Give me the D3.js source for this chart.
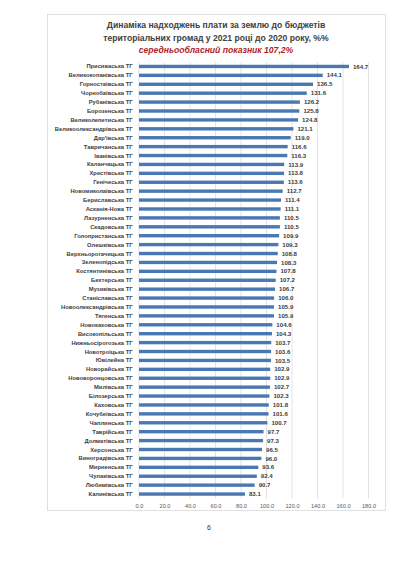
<!DOCTYPE html>
<html><head><meta charset="utf-8">
<script src="https://cdn.jsdelivr.net/npm/d3@7"></script>
<style>body{margin:0;background:#fff}svg{display:block}</style>
</head><body>
<script>
const categories = ["Присиваська ТГ","Великокопанівська ТГ","Горностаївська ТГ","Чорнобаївська ТГ","Рубанівська ТГ","Борозенська ТГ","Великолепетиська ТГ","Великоолександрівська ТГ","Дар'ївська ТГ","Тавричанська ТГ","Іванівська ТГ","Каланчацька ТГ","Хрестівська ТГ","Генічеська ТГ","Новомиколаївська ТГ","Бериславська ТГ","Асканія-Нова ТГ","Лазурненська ТГ","Скадовська ТГ","Голопристанська ТГ","Олешківська ТГ","Верхньорогачицька ТГ","Зеленопідська ТГ","Костянтинівська ТГ","Бехтерська ТГ","Музиківська ТГ","Станіславська ТГ","Новоолександрівська ТГ","Тягинська ТГ","Новокаховська ТГ","Високопільська ТГ","Нижньосірогозька ТГ","Новотроїцька ТГ","Ювілейна ТГ","Новорайська ТГ","Нововоронцовська ТГ","Милівська ТГ","Білозерська ТГ","Каховська ТГ","Кочубеївська ТГ","Чаплинська ТГ","Таврійська ТГ","Долматівська ТГ","Херсонська ТГ","Виноградівська ТГ","Мирненська ТГ","Чулаківська ТГ","Любимівська ТГ","Калинівська ТГ"];
const values = [164.7,144.1,136.5,131.6,126.2,125.8,124.8,121.1,119.0,116.6,116.3,113.9,113.8,113.6,112.7,111.4,111.1,110.5,110.5,109.9,109.3,108.8,108.3,107.8,107.2,106.7,106.0,105.9,105.9,104.6,104.3,103.7,103.6,103.5,102.9,102.9,102.7,102.3,101.8,101.6,100.7,97.7,97.3,96.5,96.0,93.6,92.4,90.7,83.1];
const xTicks = [0,20,40,60,80,100,120,140,160,180];
const titleLines = ["Динаміка надходжень плати за землю до бюджетів","територіальних громад у 2021 році до 2020 року, %%"];
const subtitle = "середньообласний показник 107,2%";
const pageNumber = "6";

const W = 400, H = 565;
const svg = d3.select("body").append("svg").attr("width", W).attr("height", H)
  .style("font-family", "'Liberation Sans', Arial, sans-serif");

// chart border
svg.append("rect").attr("x", 47.5).attr("y", 14.5).attr("width", 338).attr("height", 496)
  .attr("fill", "none").attr("stroke", "#d9d9d9").attr("stroke-width", 0.8);

const x = d3.scaleLinear().domain([0, 180]).range([139, 368.5]);
const y = d3.scaleBand().domain(categories).range([62, 498.5]).paddingInner(0.62).paddingOuter(0.31);

// gridlines
svg.append("g").selectAll("line").data(xTicks).join("line")
  .attr("x1", d => x(d)).attr("x2", d => x(d))
  .attr("y1", 62).attr("y2", 498.5)
  .attr("stroke", "#d9d9d9").attr("stroke-width", 0.7);

// x axis
const xAxis = svg.append("g").attr("transform", "translate(0,498.5)")
  .call(d3.axisBottom(x).tickValues(xTicks).tickFormat(d3.format(".1f")).tickSize(0).tickPadding(6));
xAxis.select(".domain").remove();
xAxis.selectAll("text").attr("font-size", 5.6).attr("fill", "#595959")
  .style("font-family", "'Liberation Sans', Arial, sans-serif");

// bars
svg.append("g").selectAll("rect").data(values).join("rect")
  .attr("x", x(0)).attr("y", (d, i) => y(categories[i]))
  .attr("width", d => x(d) - x(0)).attr("height", y.bandwidth())
  .attr("fill", "#4a78b2");

// value labels
svg.append("g").selectAll("text").data(values).join("text")
  .attr("x", d => x(d) + 4).attr("y", (d, i) => y(categories[i]) + y.bandwidth() / 2)
  .attr("dy", "0.35em").attr("font-size", 6.1).attr("font-weight", "bold").attr("fill", "#404040")
  .text(d => d.toFixed(1));

// category labels
svg.append("g").selectAll("text").data(categories).join("text")
  .attr("x", 132.5).attr("y", d => y(d) + y.bandwidth() / 2)
  .attr("dy", "0.35em").attr("text-anchor", "end").attr("font-size", 5.8).attr("font-weight", "bold")
  .attr("fill", "#404040").text(d => d);

// title
svg.append("g").selectAll("text").data(titleLines).join("text")
  .attr("x", 216).attr("y", (d, i) => 28 + i * 12.5)
  .attr("text-anchor", "middle").attr("font-size", 8.6).attr("font-weight", "bold").attr("fill", "#404040")
  .text(d => d);
svg.append("text").attr("x", 216).attr("y", 52.5).attr("text-anchor", "middle")
  .attr("font-size", 8.6).attr("font-weight", "bold").attr("font-style", "italic").attr("fill", "#b0232a")
  .text(subtitle);

// page number
svg.append("text").attr("x", 209).attr("y", 530).attr("text-anchor", "middle")
  .attr("font-size", 7).attr("fill", "#333").text(pageNumber);
</script>
</body></html>
